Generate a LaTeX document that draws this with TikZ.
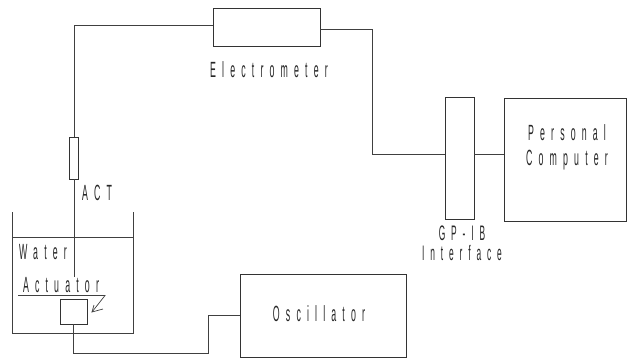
\documentclass[tikz,border=0pt]{standalone}
\usepackage{fontspec}
\setmainfont[FakeStretch=0.4,LetterSpace=28]{Liberation Sans}
\tikzset{
  wire/.style={draw=black!75,line width=0.7pt,line join=miter},
  box/.style={draw=black!80,line width=0.8pt,fill=none,inner sep=0pt,outer sep=0pt},
  lab/.style={inner sep=0pt,text=black!85,font=\fontsize{22}{25}\selectfont,align=center}
}
\begin{document}
\begin{tikzpicture}[x=1pt,y=-1pt]
\useasboundingbox (0,0) rectangle (629,360);
% boxes
\node[box,minimum width=107pt,minimum height=38pt] (elec) at (266.5,27) {};
\node[box,minimum width=29pt,minimum height=122pt] (gpib) at (459.5,158) {};
\node[box,minimum width=122pt,minimum height=123pt] (pc) at (565,159.5) {};
\node[box,minimum width=9pt,minimum height=42pt] (act) at (74,158) {};
\node[box,minimum width=27pt,minimum height=25pt] (sensor) at (73.5,311.5) {};
\node[box,minimum width=166pt,minimum height=83pt] (osc) at (323,316) {};
% tank
\coordinate (tl) at (12,212);
\coordinate (tr) at (133,212);
\coordinate (wl) at (12,237);
\coordinate (wr) at (133,237);
\coordinate (bl) at (12,333);
\coordinate (br) at (133,333);
\draw[wire] (tl) -- (bl) -- (br) -- (tr);
\draw[wire] (wl) -- (wr);
% connectors
\coordinate (c1) at (74,25);
\draw[wire] ([yshift=2pt]elec.west) -- (c1) -- (act.north);
\coordinate (c2) at (372,29);
\coordinate (c3) at (372,154);
\draw[wire] ([yshift=-2pt]elec.east) -- (c2) -- (c3) -- (gpib.west |- c3);
\draw[wire] (gpib.east |- c3) -- (pc.west |- c3);
\coordinate (c4) at (74,277);
\draw[wire] (act.south) -- (c4);
\coordinate (c5) at (73.5,353);
\coordinate (c6) at (208,353);
\coordinate (c7) at (208,315);
\draw[wire] (sensor.south) -- (c5) -- (c6) -- (c7) -- (osc.west |- c7);
% actuator pointer
\coordinate (u1) at (18,295.5);
\coordinate (u2) at (105,295.5);
\coordinate (u3) at (92,312);
\draw[wire] (u1) -- (u2) -- (u3);
\draw[wire] (94,305) -- (u3) -- (103,309);
% labels
\node[lab] (lelec) at (269,70) {Electrometer};
\node[lab] (lpc) at (567,147) {Personal\\Computer};
\node[lab,font=\fontsize{21}{20}\selectfont] (lgp) at (462,243) {GP-IB\\Interface};
\node[lab] (lact) at (97,193) {ACT};
\node[lab] (lwater) at (43,252) {Water};
\node[lab] (lactu) at (61,285.5) {Actuator};
\node[lab] (losc) at (319,314) {Oscillator};
\end{tikzpicture}
\end{document}
